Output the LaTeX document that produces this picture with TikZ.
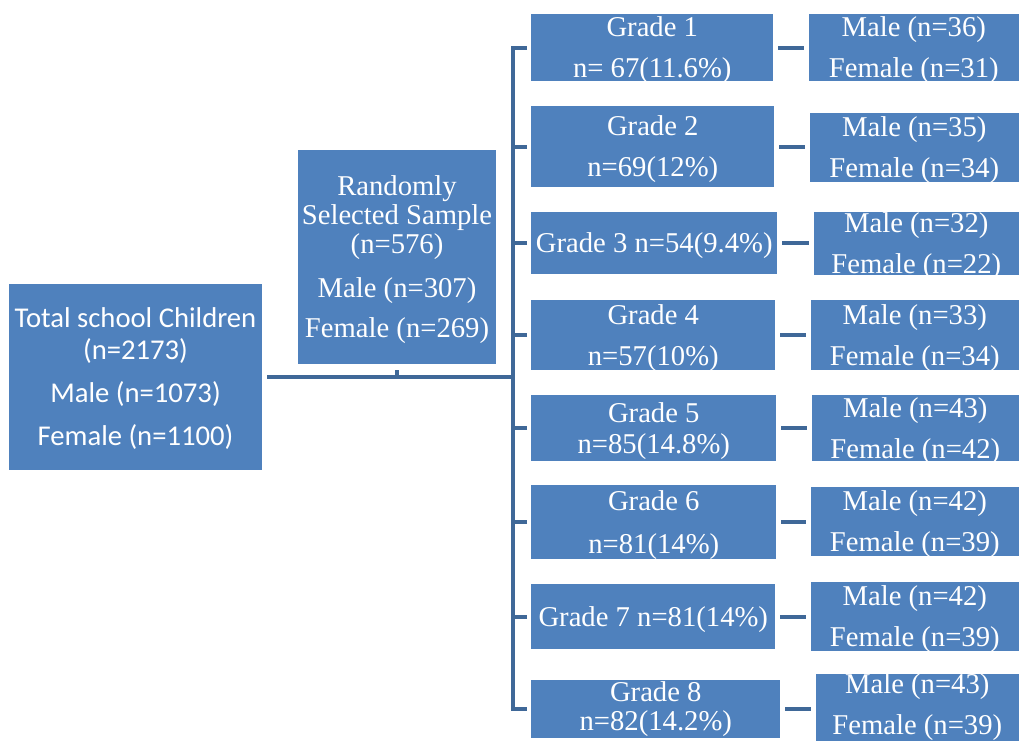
\documentclass[tikz,border=0pt]{standalone}
\usepackage{fontspec}
\setmainfont{Liberation Serif}
\newfontfamily\calibrifont{Carlito}
\usetikzlibrary{calc}
\definecolor{boxblue}{RGB}{79,129,189}
\definecolor{lineblue}{RGB}{63,104,152}
\tikzset{
  box/.style={fill=boxblue, text=white, inner sep=0pt, align=center, text depth=0pt, font=\fontsize{21.5}{30.75}\selectfont},
  conn/.style={draw=lineblue, line width=3pt},
}

\begin{document}
\begin{tikzpicture}[x=0.75pt,y=0.75pt,yscale=-1,xscale=1]
\useasboundingbox (0,0) rectangle (1019,740);
\coordinate (bx) at (513,0);

%Shape: Rectangle [total]
\node [box, minimum width=189.75pt, minimum height=139.5pt, font=\calibrifont\fontsize{21.5}{24}\selectfont] (tot) at (135.5,377)
  {Total school Children\\(n=2173)\\[8.25pt]Male (n=1073)\\[8.25pt]Female (n=1100)};
%Shape: Rectangle [sample]
\node [box, minimum width=148.5pt, minimum height=160.5pt, font=\fontsize{21.5}{21.75}\selectfont] (rand) at (397,257)
  {Randomly\\Selected Sample\\(n=576)\\[11.25pt]Male (n=307)\\[8.25pt]Female (n=269)};

%Shape: Rectangle [grades]
\node [box, anchor=west, minimum width=181.5pt, minimum height=50.25pt] (g1) at (531,47.5) {Grade 1\\n= 67(11.6\%)};
\node [box, anchor=west, minimum width=182.25pt, minimum height=60.75pt] (g2) at (531,146.5) {Grade 2\\n=69(12\%)};
\node [box, anchor=west, minimum width=184.5pt, minimum height=46.5pt] (g3) at (531,243) {Grade 3 n=54(9.4\%)};
\node [box, anchor=west, minimum width=183pt, minimum height=52.5pt] (g4) at (531,335) {Grade 4\\n=57(10\%)};
\node [box, anchor=west, minimum width=183.75pt, minimum height=49.5pt, font=\fontsize{21.5}{23.25}\selectfont] (g5) at (531,428) {Grade 5\\n=85(14.8\%)};
\node [box, anchor=west, minimum width=183.75pt, minimum height=55.5pt, font=\fontsize{21.5}{32.25}\selectfont] (g6) at (531,522) {Grade 6\\n=81(14\%)};
\node [box, anchor=west, minimum width=183pt, minimum height=48.75pt] (g7) at (531,616.5) {Grade 7 n=81(14\%)};
\node [box, anchor=west, minimum width=186.75pt, minimum height=43.5pt, text depth=4.5pt, font=\fontsize{21.5}{21.75}\selectfont] (g8) at (531,709) {Grade 8\\n=82(14.2\%)};

%Shape: Rectangle [sexes]
\node [box, anchor=east, minimum width=157.5pt, minimum height=50.25pt] (s1) at (1019,47.5) {Male (n=36)\\Female (n=31)};
\node [box, anchor=east, minimum width=156.75pt, minimum height=51.75pt] (s2) at (1019,147.5) {Male (n=35)\\Female (n=34)};
\node [box, anchor=east, minimum width=153.75pt, minimum height=47.25pt] (s3) at (1019,243.5) {Male (n=32)\\Female (n=22)};
\node [box, anchor=east, minimum width=156pt, minimum height=52.5pt] (s4) at (1019,335) {Male (n=33)\\Female (n=34)};
\node [box, anchor=east, minimum width=155.25pt, minimum height=49.5pt] (s5) at (1019,428) {Male (n=43)\\Female (n=42)};
\node [box, anchor=east, minimum width=156pt, minimum height=51.75pt] (s6) at (1019,521.5) {Male (n=42)\\Female (n=39)};
\node [box, anchor=east, minimum width=156pt, minimum height=51.75pt] (s7) at (1019,616.5) {Male (n=42)\\Female (n=39)};
\node [box, anchor=east, minimum width=152.25pt, minimum height=48.75pt, text depth=4.5pt] (s8) at (1019,707.5) {Male (n=43)\\Female (n=39)};

%Straight Lines [main branch]
\draw [conn, shorten <=3.75pt] (tot.east) -- (tot.east -| bx);
\draw [conn, shorten <=4.5pt] (rand.south) -- (rand.south |- tot.east);
%Straight Lines [bus]
\draw [conn, shorten <=3pt, shorten >=3pt] (g1.west) -- (g1.west -| bx) -- (g8.west -| bx) -- (g8.west);
\foreach \i in {2,...,7}
  \draw [conn, shorten <=3pt] (g\i.west) -- (g\i.west -| bx);
%Straight Lines [to sexes]
\foreach \i in {1,...,8}
  \draw [conn, shorten <=3.5pt, shorten >=3.5pt] (g\i.east) -- (g\i.east -| s\i.west);

\end{tikzpicture}
\end{document}
